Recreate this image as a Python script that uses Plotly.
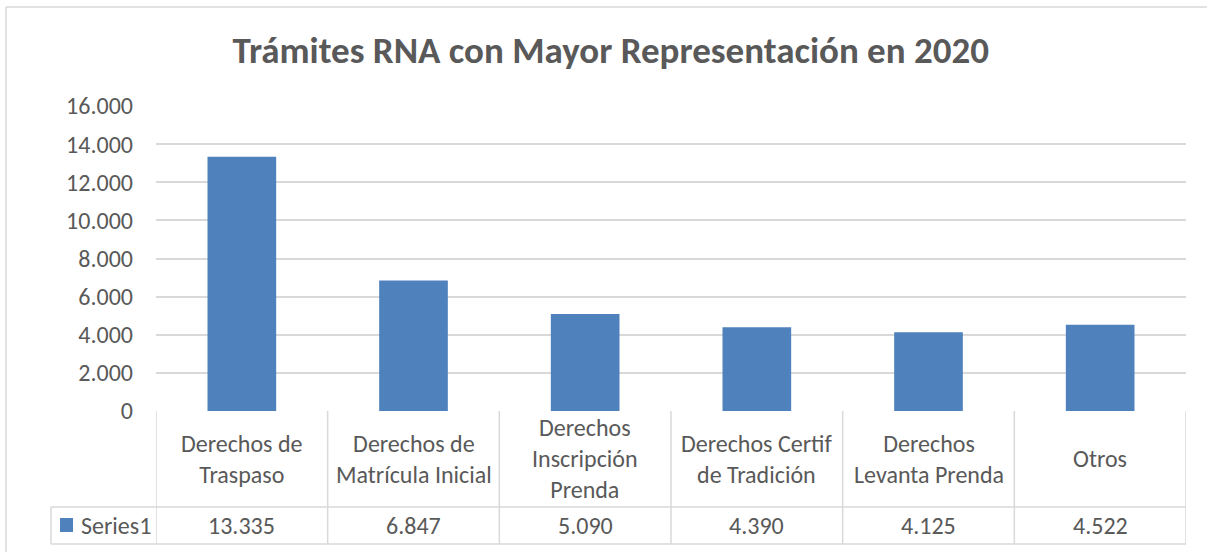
import plotly.graph_objects as go

# Datos del gráfico
categorias = ['Derechos de Traspaso', 'Derechos de Matrícula Inicial',
              'Derechos Inscripción Prenda', 'Derechos Certif de Tradición',
              'Derechos Levanta Prenda', 'Otros']
etiquetas = ['Derechos de<br>Traspaso', 'Derechos de<br>Matrícula Inicial',
             'Derechos<br>Inscripción<br>Prenda', 'Derechos Certif<br>de Tradición',
             'Derechos<br>Levanta Prenda', 'Otros']
valores = [13335, 6847, 5090, 4390, 4125, 4522]
serie = 'Series1'
titulo = 'Trámites RNA con Mayor Representación en 2020'

FUENTE = 'Carlito, Calibri, Lato, sans-serif'
GRIS = '#595959'
LINEA = '#D9D9D9'
AZUL = '#4F81BD'

# Filas de la tabla (en coordenadas paper del eje y)
Y_FILA1 = -0.3148
Y_FIN = -0.436

fig = go.Figure()

fig.add_trace(go.Bar(
    x=categorias,
    y=valores,
    name=serie,
    marker=dict(color=AZUL, line=dict(width=0)),
    width=0.4,
    hovertemplate='%{x}: %{y:,d}<extra></extra>'
))

shapes = []
anotaciones = []

# Lineas verticales de la tabla
n = len(categorias)
for i in range(n + 1):
    shapes.append(dict(type='line', xref='x', yref='paper',
                       x0=i - 0.5, x1=i - 0.5, y0=0, y1=Y_FIN,
                       line=dict(color=LINEA, width=1.5)))
# Lineas horizontales
shapes.append(dict(type='line', xref='paper', yref='paper',
                   x0=-0.102, x1=1, y0=Y_FILA1, y1=Y_FILA1,
                   line=dict(color=LINEA, width=1.5)))
shapes.append(dict(type='line', xref='paper', yref='paper',
                   x0=-0.102, x1=1, y0=Y_FIN, y1=Y_FIN,
                   line=dict(color=LINEA, width=1.5)))
shapes.append(dict(type='line', xref='paper', yref='paper',
                   x0=-0.102, x1=-0.102, y0=Y_FILA1, y1=Y_FIN,
                   line=dict(color=LINEA, width=1.5)))
# Muestra de la serie
shapes.append(dict(type='rect', xref='paper', yref='paper',
                   x0=-0.0932, x1=-0.0806, y0=-0.3508, y1=-0.3967,
                   fillcolor=AZUL, line=dict(width=0)))
# Borde exterior del gráfico
shapes.append(dict(type='line', xref='paper', yref='paper',
                   x0=-0.1456, x1=1.1, y0=1.3246, y1=1.3246,
                   line=dict(color=LINEA, width=1.5)))
shapes.append(dict(type='line', xref='paper', yref='paper',
                   x0=-0.1456, x1=-0.1456, y0=1.3246, y1=-0.5,
                   line=dict(color=LINEA, width=1.5)))

for cat, etq, v in zip(categorias, etiquetas, valores):
    anotaciones.append(dict(x=cat, y=-0.157, xref='x', yref='paper',
                            text=etq, showarrow=False, align='center',
                            yanchor='middle',
                            font=dict(family=FUENTE, size=24, color=GRIS)))
    anotaciones.append(dict(x=cat, y=-0.377, xref='x', yref='paper',
                            text=f'{v:,}'.replace(',', '.'), showarrow=False,
                            yanchor='middle',
                            font=dict(family=FUENTE, size=24, color=GRIS)))

anotaciones.append(dict(x=-0.0748, y=-0.377, xref='paper', yref='paper',
                        text=serie, showarrow=False, xanchor='left',
                        yanchor='middle',
                        font=dict(family=FUENTE, size=24, color=GRIS)))

fig.update_layout(
    width=1207,
    height=552,
    margin=dict(l=156, r=21, t=106, b=141),
    paper_bgcolor='white',
    plot_bgcolor='white',
    separators=',.',
    showlegend=False,
    title=dict(text=f'<b>{titulo}</b>', x=0.506, xanchor='center',
               y=0.909, yanchor='middle',
               font=dict(family=FUENTE, size=37, color=GRIS)),
    shapes=shapes,
    annotations=anotaciones,
    bargap=0.6,
)

fig.update_xaxes(
    showticklabels=False,
    showgrid=False,
    showline=False,
    zeroline=False,
    range=[-0.5, n - 0.5],
)

fig.update_yaxes(
    range=[0, 16000],
    dtick=2000,
    tickformat=',d',
    showgrid=True,
    gridcolor=LINEA,
    gridwidth=1.5,
    zeroline=False,
    showline=False,
    ticks='',
    ticklabelstandoff=22,
    tickfont=dict(family=FUENTE, size=24, color=GRIS),
)

fig.write_html('out.html', config={'displayModeBar': False},
               post_script="document.body.style.margin='0';")
